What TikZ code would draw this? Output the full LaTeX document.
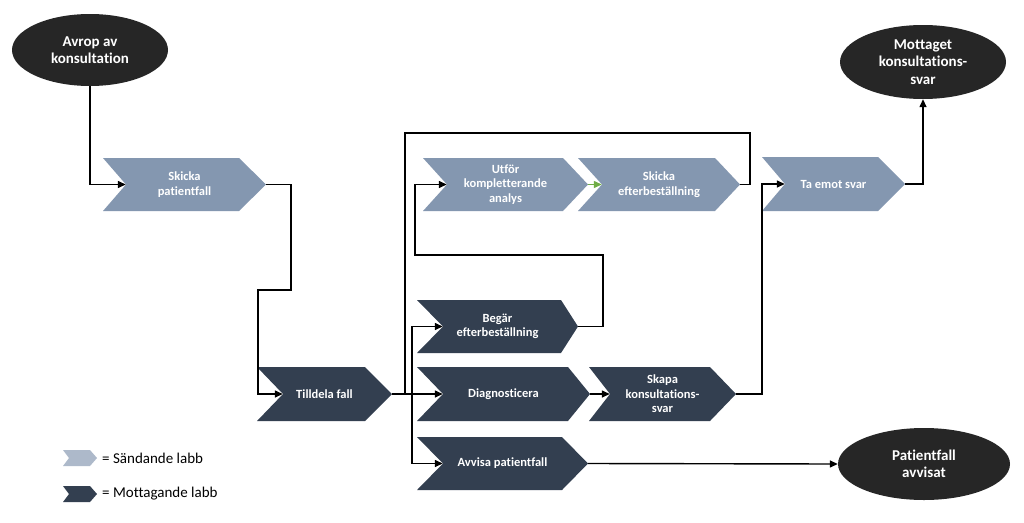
\documentclass[tikz,border=0pt]{standalone}
\usepackage{fontspec}
\setmainfont[Ligatures={NoCommon,NoRequired,NoContextual}]{Carlito}
\usetikzlibrary{arrows.meta,shapes.geometric,calc}
\definecolor{lightc}{HTML}{8497B0}
\definecolor{darkc}{HTML}{333F50}
\definecolor{ellc}{HTML}{262626}
\definecolor{legl}{HTML}{ADB9CA}
\definecolor{greenc}{HTML}{70AD47}
\begin{document}
\begin{tikzpicture}[x=1pt,y=-1pt,
  chev/.style n args={3}{rectangle, inner sep=0pt, align=center, text=white,
    font=\fontsize{12.5}{14.5}\selectfont\bfseries,
    path picture={\fill[#3] (path picture bounding box.north west)
      -- ([xshift=-#2]path picture bounding box.north east)
      -- (path picture bounding box.east)
      -- ([xshift=-#2]path picture bounding box.south east)
      -- (path picture bounding box.south west)
      -- ([xshift=#1]path picture bounding box.west) -- cycle;}},
  ell/.style={ellipse, fill=ellc, text=white, inner sep=0pt, align=center,
    font=\fontsize{15}{17.5}\selectfont\bfseries},
  line/.style={line width=1.4pt, black},
  conn/.style={line width=1.4pt, black, -{Triangle[length=8pt,width=7pt]}},
  legtext/.style={anchor=west, inner sep=0pt, font=\fontsize{15}{17}\selectfont}
]
\fill[white] (0,0) rectangle (1024,522);
\useasboundingbox (0,0) rectangle (1024,522);

% ellipses
\node[ell, minimum width=156pt, minimum height=72pt] (avrop) at (90,50) {Avrop av\\konsultation};
\node[ell, minimum width=166pt, minimum height=74pt] (mott) at (923,62) {Mottaget\\konsultations-\\svar};
\node[ell, minimum width=172pt, minimum height=72pt] (pav) at (924,464) {Patientfall\\avvisat};

% chevrons
\node[chev={23pt}{27pt}{lightc}, minimum width=163pt, minimum height=53pt] (skp) at (184.5,184.5) {Skicka\\patientfall};
\node[chev={26pt}{27pt}{darkc}, minimum width=135pt, minimum height=54pt] (till) at (324.5,394) {Tilldela fall};
\node[chev={26pt}{17pt}{darkc}, minimum width=161pt, minimum height=53pt] (beg) at (497.5,326.5) {Begär\\efterbeställning};
\node[chev={26pt}{22pt}{darkc}, minimum width=173pt, minimum height=54pt] (diag) at (503.5,394) {Diagnosticera};
\node[chev={21pt}{26pt}{darkc}, minimum width=147pt, minimum height=54pt] (skap) at (662.5,394) {Skapa\\konsultations-\\svar};
\node[chev={26pt}{26pt}{darkc}, minimum width=171pt, minimum height=53pt] (avv) at (502.5,463.5) {Avvisa patientfall};
\node[chev={24pt}{25pt}{lightc}, minimum width=165pt, minimum height=53pt] (utf) at (505.5,184.5) {Utför\\kompletterande\\analys};
\node[chev={24pt}{25pt}{lightc}, minimum width=162pt, minimum height=53pt] (ske) at (659,184.5) {Skicka\\efterbeställning};
\node[chev={23pt}{27pt}{lightc}, minimum width=143pt, minimum height=54pt] (tae) at (833.5,184) {Ta emot svar};

% notch coordinates
\coordinate (skp-in) at ([xshift=23pt]skp.west);
\coordinate (till-in) at ([xshift=26pt]till.west);
\coordinate (beg-in) at ([xshift=26pt]beg.west);
\coordinate (diag-in) at ([xshift=26pt]diag.west);
\coordinate (skap-in) at ([xshift=21pt]skap.west);
\coordinate (avv-in) at ([xshift=26pt]avv.west);
\coordinate (utf-in) at ([xshift=24pt]utf.west);
\coordinate (ske-in) at ([xshift=24pt]ske.west);
\coordinate (tae-in) at ([xshift=23pt]tae.west);
\coordinate (fork) at (412,394);
\coordinate (join) at (405,394);

% connectors
\draw[conn] (avrop.south) |- (skp-in);
\draw[conn] (skp.east) -- (291,184.5) -- (291,290) -- (258,290) |- (till-in);
\draw[conn] (till.east) -- (diag-in);
\draw[conn] (fork) |- (beg-in);
\draw[conn] (fork) |- (avv-in);
\draw[line] (ske.east) -- (750,184.5) -- (750,133) -- (405,133) -- (join);
\draw[conn] (beg.east) -- (603,326.5) -- (603,255) -- (415,255) |- (utf-in);
\draw[conn, greenc, line width=1.2pt] (utf.east) -- (ske-in);
\draw[conn] (diag.east) -- (skap-in);
\draw[conn] (skap.east) -- (762,394) |- (tae-in);
\draw[conn] (tae.east) -| (mott.south);
\draw[conn] (avv.east) -- (pav.west);

% legend
\node[chev={6pt}{7pt}{legl}, minimum width=34pt, minimum height=16pt] (legs) at (80,458) {};
\node[chev={6pt}{7pt}{darkc}, minimum width=34pt, minimum height=16pt] (legm) at (80,494) {};
\node[legtext] (legst) at (102,458) {= Sändande labb};
\node[legtext] (legmt) at (102,494) {= Mottagande labb};
\end{tikzpicture}
\end{document}
